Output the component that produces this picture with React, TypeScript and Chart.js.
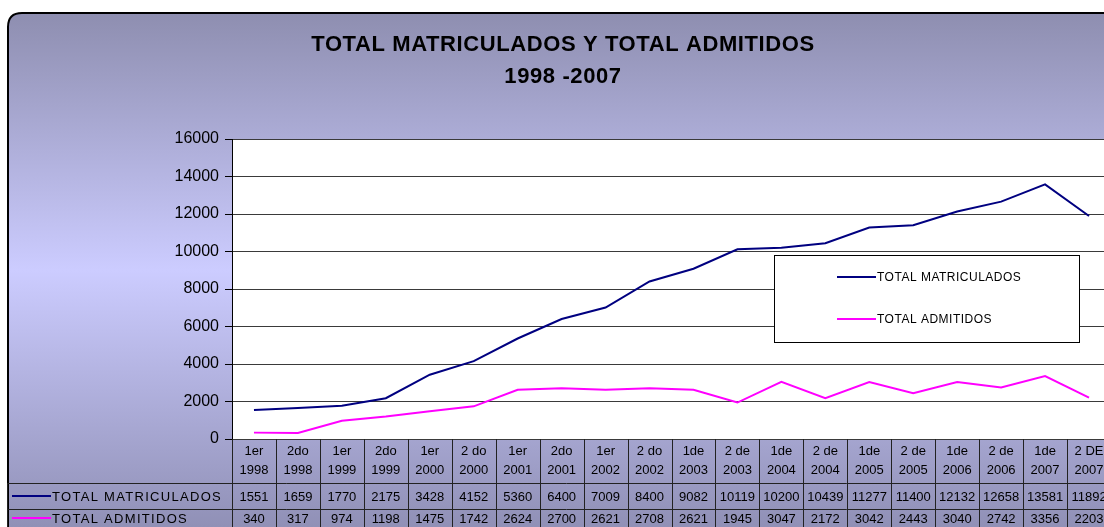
import React, { useEffect, useRef } from 'react';
import { Chart, registerables } from 'chart.js';

Chart.register(...registerables);

const categoriesTop = ['1er', '2do', '1er', '2do', '1er', '2 do', '1er', '2do', '1er', '2 do', '1de', '2 de', '1de', '2 de', '1de', '2 de', '1de', '2 de', '1de', '2 DE'];
const categoriesBottom = ['1998', '1998', '1999', '1999', '2000', '2000', '2001', '2001', '2002', '2002', '2003', '2003', '2004', '2004', '2005', '2005', '2006', '2006', '2007', '2007'];
const matriculados = [1551, 1659, 1770, 2175, 3428, 4152, 5360, 6400, 7009, 8400, 9082, 10119, 10200, 10439, 11277, 11400, 12132, 12658, 13581, 11892];
const admitidos = [340, 317, 974, 1198, 1475, 1742, 2624, 2700, 2621, 2708, 2621, 1945, 3047, 2172, 3042, 2443, 3040, 2742, 3356, 2203];
const seriesNames = ['TOTAL MATRICULADOS', 'TOTAL ADMITIDOS'];
const seriesColors = ['#000080', '#ff00ff'];
const titleLines = ['TOTAL MATRICULADOS Y TOTAL ADMITIDOS', '1998 -2007'];
const yMax = 16000;
const yStep = 2000;

const FONT = '"Liberation Sans", Arial, sans-serif';

const framePlugin = {
  id: 'frame',
  beforeDraw(chart: any) {
    const ctx = chart.ctx as CanvasRenderingContext2D;
    ctx.save();
    const x = 8, y = 13, w = 1130, h = 545, r = 14;
    const g = ctx.createLinearGradient(0, 13, 0, 527);
    g.addColorStop(0, '#8e8eb0');
    g.addColorStop(0.5, '#ccccff');
    g.addColorStop(1, '#9090b6');
    ctx.beginPath();
    ctx.moveTo(x + r, y);
    ctx.lineTo(x + w, y);
    ctx.lineTo(x + w, y + h);
    ctx.lineTo(x, y + h);
    ctx.lineTo(x, y + r);
    ctx.quadraticCurveTo(x, y, x + r, y);
    ctx.closePath();
    ctx.fillStyle = g;
    ctx.fill();
    ctx.lineWidth = 2;
    ctx.strokeStyle = '#000';
    ctx.stroke();
    const a = chart.chartArea;
    ctx.fillStyle = '#ffffff';
    ctx.fillRect(a.left, a.top, a.right - a.left, a.bottom - a.top);
    ctx.restore();
  },
  afterDraw(chart: any) {
    const ctx = chart.ctx as CanvasRenderingContext2D;
    const a = chart.chartArea;
    const xs = chart.scales.x;
    ctx.save();
    // Title
    ctx.fillStyle = '#000';
    ctx.textAlign = 'center';
    ctx.textBaseline = 'middle';
    ctx.font = `bold 22px ${FONT}`;
    (ctx as any).letterSpacing = '0.6px';
    ctx.fillText(titleLines[0], 563, 45);
    ctx.fillText(titleLines[1], 563, 77);

    // Legend box
    (ctx as any).letterSpacing = '0.5px';
    const lx = 774, ly = 255, lw = 305, lh = 87;
    ctx.fillStyle = '#fff';
    ctx.fillRect(lx, ly, lw, lh);
    ctx.strokeStyle = '#000';
    ctx.lineWidth = 1;
    ctx.strokeRect(lx + 0.5, ly + 0.5, lw, lh);
    ctx.font = `12px ${FONT}`;
    ctx.textAlign = 'left';
    const legY = [277, 319];
    seriesNames.forEach((name, i) => {
      ctx.strokeStyle = seriesColors[i];
      ctx.lineWidth = 2;
      ctx.beginPath();
      ctx.moveTo(837, legY[i]);
      ctx.lineTo(876, legY[i]);
      ctx.stroke();
      ctx.fillStyle = '#000';
      ctx.fillText(name, 877, legY[i] + 1);
    });

    // Data table
    const n = categoriesTop.length;
    const colW = xs.getPixelForValue(1) - xs.getPixelForValue(0);
    const top = a.bottom;
    const r1 = 483, r2 = 509, bot = 540;
    ctx.strokeStyle = '#222';
    ctx.lineWidth = 1;
    ctx.beginPath();
    for (let i = 0; i <= n; i++) {
      const bx = Math.round(xs.getPixelForValue(0) - colW / 2 + i * colW) + 0.5;
      ctx.moveTo(bx, top);
      ctx.lineTo(bx, bot);
    }
    ctx.moveTo(7.5, r1);
    ctx.lineTo(7.5, bot);
    ctx.moveTo(7, r1 + 0.5);
    ctx.lineTo(1140, r1 + 0.5);
    ctx.moveTo(7, r2 + 0.5);
    ctx.lineTo(1140, r2 + 0.5);
    ctx.stroke();

    ctx.fillStyle = '#000';
    ctx.font = `13px ${FONT}`;
    (ctx as any).letterSpacing = '0px';
    ctx.textAlign = 'center';
    const rows = [matriculados, admitidos];
    for (let i = 0; i < n; i++) {
      const cx = xs.getPixelForValue(i);
      ctx.fillText(categoriesTop[i], cx, 451);
      ctx.fillText(categoriesBottom[i], cx, 470);
      ctx.fillText(String(rows[0][i]), cx, 497);
      ctx.fillText(String(rows[1][i]), cx, 519);
    }
    ctx.textAlign = 'left';
    (ctx as any).letterSpacing = '1.3px';
    const rowY = [497, 519];
    seriesNames.forEach((name, i) => {
      ctx.strokeStyle = seriesColors[i];
      ctx.lineWidth = 2;
      ctx.beginPath();
      ctx.moveTo(12, rowY[i] - 1);
      ctx.lineTo(51, rowY[i] - 1);
      ctx.stroke();
      ctx.fillStyle = '#000';
      ctx.fillText(name, 52, rowY[i]);
    });
    ctx.restore();
  },
};

export default function App() {
  const ref = useRef<HTMLCanvasElement | null>(null);
  useEffect(() => {
    if (!ref.current) return;
    const labels = categoriesTop.map((t, i) => [t, categoriesBottom[i]]);
    const chart = new Chart(ref.current, {
      type: 'line',
      data: {
        labels,
        datasets: [
          { label: seriesNames[0], data: matriculados, borderColor: seriesColors[0], borderWidth: 2, pointRadius: 0, tension: 0, fill: false },
          { label: seriesNames[1], data: admitidos, borderColor: seriesColors[1], borderWidth: 2, pointRadius: 0, tension: 0, fill: false },
        ],
      },
      options: {
        responsive: false,
        animation: false,
        devicePixelRatio: 1,
        layout: { padding: { top: 139, bottom: 101, left: 0, right: 14 } },
        plugins: { legend: { display: false }, title: { display: false }, tooltip: { enabled: false } },
        scales: {
          x: { display: false, offset: true },
          y: {
            min: 0,
            max: yMax,
            ticks: { stepSize: yStep, color: '#000', font: { family: FONT, size: 16 }, padding: 6, callback: (v: any) => String(v) },
            grid: { color: '#3a3a3a', tickColor: '#000', tickLength: 7 },
            border: { color: '#000', width: 1 },
            afterFit: (s: any) => { s.width = 232; },
          },
        },
      },
      plugins: [framePlugin],
    });
    return () => chart.destroy();
  }, []);
  return (
    <div style={{ position: 'fixed', left: 0, top: 0, width: 1104, height: 527, overflow: 'hidden', background: '#fff' }}>
      <canvas ref={ref} width={1125} height={540} style={{ display: 'block' }} />
    </div>
  );
}
